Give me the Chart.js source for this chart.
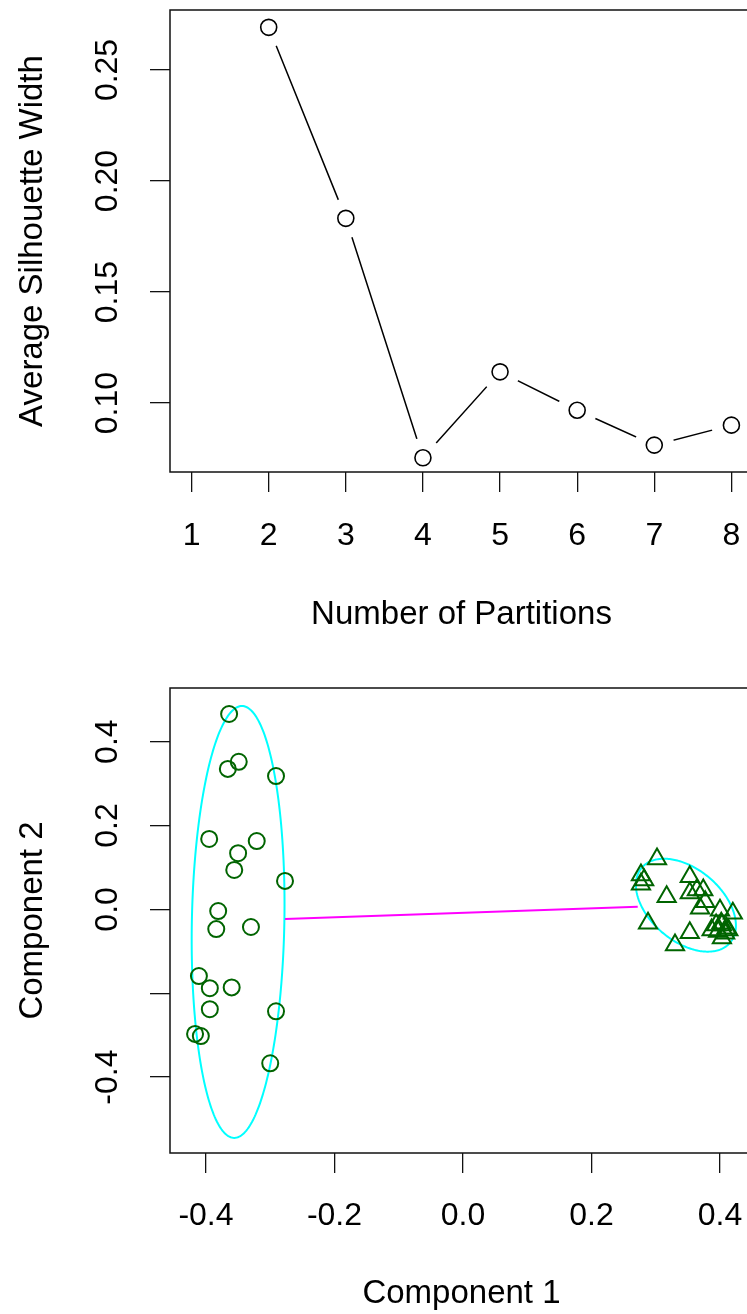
<!DOCTYPE html>
<html>
<head>
<meta charset="utf-8">
<title>Silhouette width and cluster plot</title>
<script src="https://cdn.jsdelivr.net/npm/chart.js@4.4.1/dist/chart.umd.min.js"></script>
<style>
  html, body { margin: 0; padding: 0; background: #fff; overflow: hidden; }
  #wrap { position: relative; width: 747px; height: 1314px; overflow: hidden; }
  canvas { position: absolute; left: 0; }
  #silhouette-chart { top: 0; }
  #clusplot-chart { top: 657px; }
</style>
</head>
<body>
<div id="wrap">
  <canvas id="silhouette-chart" width="760" height="657"></canvas>
  <canvas id="clusplot-chart" width="760" height="657"></canvas>
</div>
<script>
// --- Top panel: average silhouette width per number of partitions ---
const partitionTicks = [1, 2, 3, 4, 5, 6, 7, 8];
const partitionTickLabels = ['1', '2', '3', '4', '5', '6', '7', '8'];
const partitions = [2, 3, 4, 5, 6, 7, 8];
const silWidths = [0.2692, 0.1832, 0.0754, 0.1141, 0.0968, 0.0811, 0.0901];
const silTicks = [0.10, 0.15, 0.20, 0.25];
const silTickLabels = ['0.10', '0.15', '0.20', '0.25'];

// --- Bottom panel: cluster plot on the first two components ---
const comp1Ticks = [-0.4, -0.2, 0.0, 0.2, 0.4];
const comp1TickLabels = ['-0.4', '-0.2', '0.0', '0.2', '0.4'];
const comp2Ticks = [-0.4, -0.2, 0.0, 0.2, 0.4];
const comp2TickLabels = ['-0.4', '', '0.0', '0.2', '0.4']; // -0.2 not labelled in original

const cluster1X = [-0.364, -0.366, -0.349, -0.291, -0.395, -0.350, -0.321, -0.356, -0.277, -0.381,
                   -0.384, -0.330, -0.411, -0.394, -0.360, -0.394, -0.291, -0.417, -0.408, -0.300];
const cluster1Y = [0.466, 0.335, 0.352, 0.318, 0.168, 0.134, 0.163, 0.094, 0.068, -0.004,
                   -0.047, -0.042, -0.159, -0.188, -0.186, -0.238, -0.243, -0.297, -0.302, -0.367];

const cluster2X = [0.302, 0.277, 0.282, 0.277, 0.317, 0.353, 0.353, 0.364, 0.374, 0.377,
                   0.369, 0.400, 0.420, 0.288, 0.353, 0.330, 0.394, 0.402, 0.403, 0.410,
                   0.387, 0.397, 0.408, 0.403, 0.413];
const cluster2Y = [0.120, 0.082, 0.070, 0.060, 0.030, 0.078, 0.039, 0.046, 0.046, 0.018,
                   0.003, -0.002, -0.009, -0.033, -0.056, -0.085, -0.037, -0.033, -0.037, -0.045,
                   -0.049, -0.053, -0.057, -0.068, -0.049];

// cluster ellipses: centre and two conjugate half-axes, in data units
const ellipseCenters = [[-0.350, -0.030], [0.347, 0.010]];
const ellipseAxisA = [[0.006, 0.515], [0.069, -0.089]];
const ellipseAxisB = [[0.072, 0.000], [0.036, 0.066]];

// segment joining the two ellipses
const linkX = [-0.277, 0.272];
const linkY = [-0.023, 0.006];

Chart.defaults.font.family = "'Liberation Sans', Arial, sans-serif";
Chart.defaults.font.size = 32;
Chart.defaults.color = '#000';

const toPoints = (xs, ys) => xs.map((x, i) => ({ x: x, y: ys[i] }));

// draws the R style box around the plot region
const boxPlugin = {
    id: 'box',
    afterDatasetsDraw(chart) {
        const { ctx, chartArea: a } = chart;
        ctx.save();
        ctx.strokeStyle = '#111';
        ctx.lineWidth = 1.5;
        ctx.strokeRect(a.left, a.top, a.right - a.left, a.bottom - a.top);
        ctx.restore();
    }
};

const ellipsePlugin = {
    id: 'ellipses',
    beforeDatasetsDraw(chart) {
        const { ctx, chartArea: a, scales } = chart;
        ctx.save();
        ctx.beginPath();
        ctx.rect(a.left, a.top, a.right - a.left, a.bottom - a.top);
        ctx.clip();
        ctx.strokeStyle = '#00ffff';
        ctx.lineWidth = 2;
        ellipseCenters.forEach((c, k) => {
            const ea = ellipseAxisA[k];
            const eb = ellipseAxisB[k];
            ctx.beginPath();
            for (let i = 0; i <= 240; i++) {
                const t = i / 240 * 2 * Math.PI;
                const px = scales.x.getPixelForValue(c[0] + ea[0] * Math.cos(t) + eb[0] * Math.sin(t));
                const py = scales.y.getPixelForValue(c[1] + ea[1] * Math.cos(t) + eb[1] * Math.sin(t));
                if (i === 0) ctx.moveTo(px, py); else ctx.lineTo(px, py);
            }
            ctx.closePath();
            ctx.stroke();
        });
        ctx.restore();
    }
};

// linear axis with fixed ticks and fixed size, so the plot box lands where R put it
function makeAxis(o) {
    const vertical = o.position === 'left';
    return {
        type: 'linear',
        position: o.position,
        min: o.min,
        max: o.max,
        afterBuildTicks: s => { s.ticks = o.ticks.map(v => ({ value: v })); },
        afterFit: s => {
            if (vertical) s.width = o.size; else s.height = o.size;
            s.paddingTop = 0; s.paddingBottom = 0; s.paddingLeft = 0; s.paddingRight = 0;
        },
        border: { display: false },
        grid: {
            drawOnChartArea: false,
            drawTicks: true,
            tickLength: 20,
            color: '#111',
            lineWidth: 1.3
        },
        ticks: {
            autoSkip: false,
            padding: o.tickPad,
            minRotation: vertical ? 90 : 0,
            maxRotation: vertical ? 90 : 0,
            crossAlign: vertical ? 'center' : 'near',
            callback: (v, i) => o.labels[i]
        },
        title: {
            display: true,
            text: o.title,
            font: { size: 33 },
            padding: o.titlePad
        }
    };
}

const baseOptions = {
    responsive: false,
    animation: false,
    devicePixelRatio: 1,
    plugins: { legend: { display: false }, tooltip: { enabled: false } }
};

// --- Top chart ---
const silPoints = toPoints(partitions, silWidths);
new Chart(document.getElementById('silhouette-chart'), {
    type: 'scatter',
    data: {
        datasets: [
            { data: silPoints, showLine: false, pointRadius: 8, pointBorderWidth: 1.6,
              pointBorderColor: '#000', pointBackgroundColor: 'rgba(0,0,0,0)' },
            // white discs leave the gaps R draws around points with type = "b"
            { data: silPoints, showLine: false, pointRadius: 20, pointBorderWidth: 0,
              pointBorderColor: '#fff', pointBackgroundColor: '#fff' },
            { data: silPoints, showLine: true, borderColor: '#000', borderWidth: 1.5, pointRadius: 0 }
        ]
    },
    options: Object.assign({}, baseOptions, {
        layout: { autoPadding: false, padding: { top: 10, right: 7, bottom: 0, left: 0 } },
        scales: {
            x: makeAxis({ position: 'bottom', min: 0.72, max: 8.28, ticks: partitionTicks,
                          labels: partitionTickLabels, size: 185, tickPad: 25,
                          title: 'Number of Partitions', titlePad: { top: 0, bottom: 22 } }),
            y: makeAxis({ position: 'left', min: 0.0690, max: 0.2770, ticks: silTicks,
                          labels: silTickLabels, size: 170, tickPad: 11,
                          title: 'Average Silhouette Width', titlePad: { top: 13, bottom: 0 } })
        }
    }),
    plugins: [boxPlugin]
});

// --- Bottom chart ---
new Chart(document.getElementById('clusplot-chart'), {
    type: 'scatter',
    data: {
        datasets: [
            { data: toPoints(cluster1X, cluster1Y), pointStyle: 'circle', pointRadius: 8,
              pointBorderWidth: 2, pointBorderColor: '#006400', pointBackgroundColor: 'rgba(0,0,0,0)' },
            { data: toPoints(cluster2X, cluster2Y), pointStyle: 'triangle', pointRadius: 10.5,
              pointBorderWidth: 2, pointBorderColor: '#006400', pointBackgroundColor: 'rgba(0,0,0,0)' },
            { data: toPoints(linkX, linkY), showLine: true, borderColor: '#ff00ff', borderWidth: 2, pointRadius: 0 }
        ]
    },
    options: Object.assign({}, baseOptions, {
        layout: { autoPadding: false, padding: { top: 31, right: 7, bottom: 0, left: 0 } },
        scales: {
            x: makeAxis({ position: 'bottom', min: -0.456, max: 0.4514, ticks: comp1Ticks,
                          labels: comp1TickLabels, size: 161, tickPad: 24,
                          title: 'Component 1', titlePad: { top: 0, bottom: 0 } }),
            y: makeAxis({ position: 'left', min: -0.581, max: 0.528, ticks: comp2Ticks,
                          labels: comp2TickLabels, size: 170, tickPad: 14,
                          title: 'Component 2', titlePad: { top: 13, bottom: 0 } })
        }
    }),
    plugins: [ellipsePlugin, boxPlugin]
});
</script>
</body>
</html>
